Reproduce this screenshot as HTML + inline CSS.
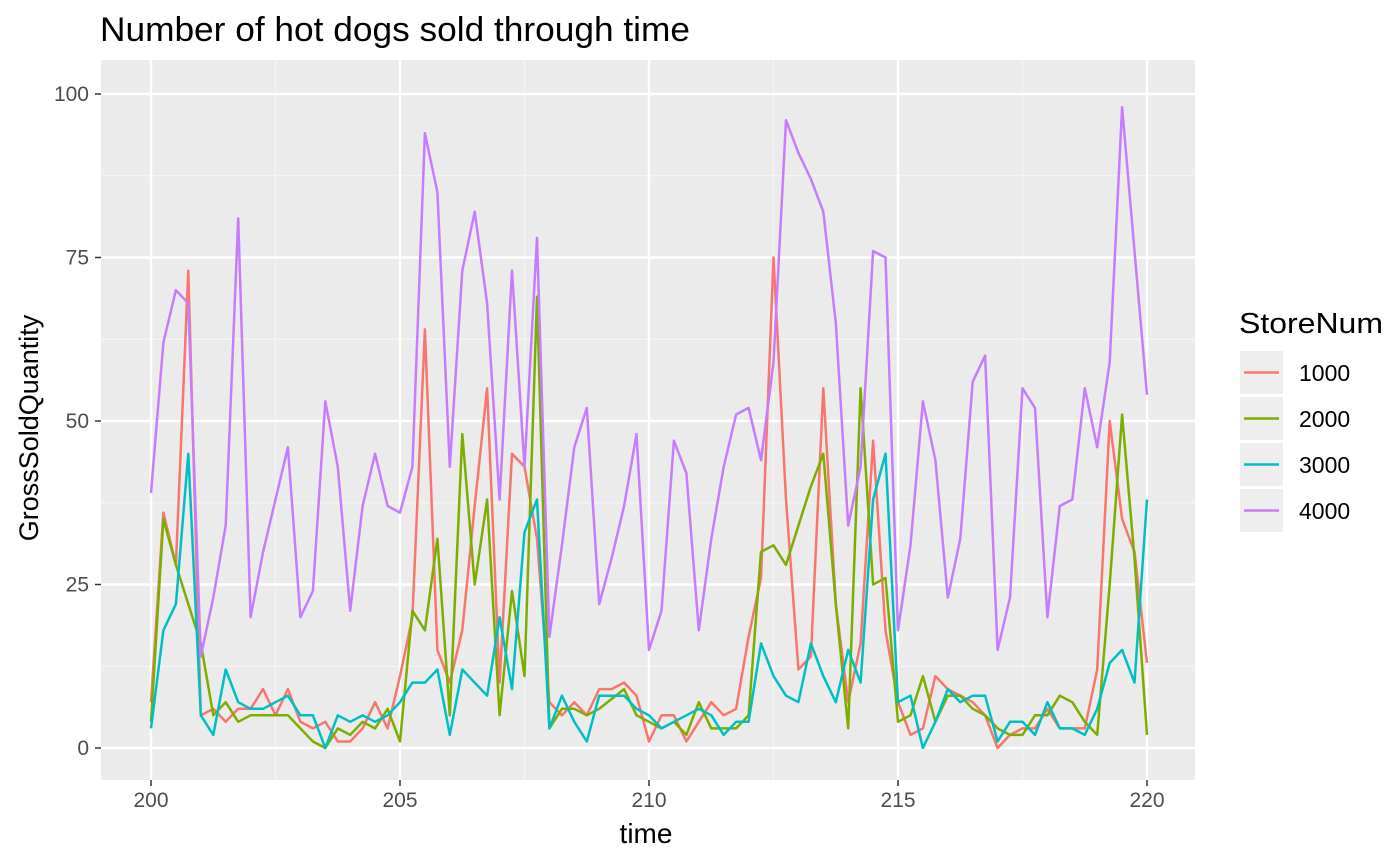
<!DOCTYPE html>
<html><head><meta charset="utf-8"><style>
body{margin:0;background:#fff;font-family:"Liberation Sans",Arial,sans-serif}
svg{display:block}
</style></head><body>
<svg id="chart" width="1400" height="865" xmlns="http://www.w3.org/2000/svg" font-family="Liberation Sans, Arial, sans-serif">
<text x="100" y="41" font-size="34" textLength="590" lengthAdjust="spacingAndGlyphs" fill="#000">Number of hot dogs sold through time</text>
<rect x="101" y="60" width="1094" height="720" fill="#ebebeb"/>
<g id="grid"></g>
<g id="series"></g>
<g id="axes"></g>
<text x="646" y="843" font-size="28" text-anchor="middle" fill="#000">time</text>
<text transform="translate(38,428) rotate(-90)" font-size="27" text-anchor="middle" fill="#000">GrossSoldQuantity</text>
<g>
<text x="1239" y="333" font-size="29" textLength="144" lengthAdjust="spacingAndGlyphs" fill="#000">StoreNum</text>
<g id="legend"></g>
</g>
</svg>
<script>
const storeNames = ["1000","2000","3000","4000"];
const colors = ["#F8766D","#7CAE00","#00BFC4","#C77CFF"];
const timeStart = 200, timeStep = 0.25;
const xTicks = [200,205,210,215,220];
const yTicks = [0,25,50,75,100];
const store1000 = [7,36,28,73,5,6,4,6,6,9,5,9,4,3,4,1,1,3,7,3,11,20,64,15,10,18,37,55,10,45,43,32,7,5,7,5,9,9,10,8,1,5,5,1,4,7,5,6,17,26,75,38,12,14,55,22,7,16,47,18,7,2,3,11,9,8,7,5,0,2,3,3,6,3,3,3,12,50,35,30,13];
const store2000 = [4,35,28,22,16,5,7,4,5,5,5,5,3,1,0,3,2,4,3,6,1,21,18,32,5,48,25,38,5,24,11,69,3,6,6,5,6,7.5,9,5,4,3,4,2,7,3,3,3,5,30,31,28,34,40,45,22,3,55,25,26,4,5,11,4,8,8,6,5,3,2,2,5,5,8,7,4,2,25,51,29,2];
const store3000 = [3,18,22,45,5,2,12,7,6,6,7,8,5,5,0,5,4,5,4,5,7,10,10,12,2,12,10,8,20,9,33,38,3,8,4,1,8,8,8,6,5,3,4,5,6,5,2,4,4,16,11,8,7,16,11,7,15,10,38,45,7,8,0,4,9,7,8,8,1,4,4,2,7,3,3,2,6,13,15,10,38];
const store4000 = [39,62,70,68,14,23,34,81,20,30,38,46,20,24,53,43,21,37,45,37,36,43,94,85,43,73,82,68,38,73,43,78,17,31,46,52,22,29,37,48,15,21,47,42,18,32,43,51,52,44,59,96,91,87,82,65,34,43,76,75,18,31,53,44,23,32,56,60,15,23,55,52,20,37,38,55,46,59,98,76,54];
const seriesData = [store1000,store2000,store3000,store4000];

const NS="http://www.w3.org/2000/svg";
const X0=101,X1=1195,Y0=60,Y1=780;
const xs=t=>151+(t-200)*(1147-151)/20;
const ys=v=>748-v*(748-94)/100;
function mk(tag,attrs,parent){const e=document.createElementNS(NS,tag);for(const k in attrs)e.setAttribute(k,attrs[k]);parent.appendChild(e);return e;}
const grid=document.getElementById('grid'),axes=document.getElementById('axes'),ser=document.getElementById('series'),leg=document.getElementById('legend');
for(let i=0;i<xTicks.length-1;i++){const m=(xTicks[i]+xTicks[i+1])/2;
 const l=mk('line',{x1:xs(m),x2:xs(m),y1:Y0,y2:Y1,stroke:'#f5f5f5','stroke-width':1.2},grid);
 
 }
for(let i=0;i<yTicks.length-1;i++){const m=(yTicks[i]+yTicks[i+1])/2;
 const l=mk('line',{x1:X0,x2:X1,y1:ys(m),y2:ys(m),stroke:'#f5f5f5','stroke-width':1.2},grid);
 
 }
xTicks.forEach(t=>{
 const l=mk('line',{x1:xs(t),x2:xs(t),y1:Y0,y2:Y1,stroke:'#fff','stroke-width':2.4},grid);
 
 
 const k=mk('line',{x1:xs(t),x2:xs(t),y1:Y1,y2:Y1+6,stroke:'#333','stroke-width':1.5},axes);
 
 
 const tx=mk('text',{x:xs(t),y:Y1+27,'font-size':21,'text-anchor':'middle',fill:'#4d4d4d'},axes);
 tx.textContent=t;
 
 
});
yTicks.forEach(v=>{
 const l=mk('line',{x1:X0,x2:X1,y1:ys(v),y2:ys(v),stroke:'#fff','stroke-width':2.4},grid);
 
 
 const k=mk('line',{x1:X0-6,x2:X0,y1:ys(v),y2:ys(v),stroke:'#333','stroke-width':1.5},axes);
 
 
 const tx=mk('text',{x:X0-12,y:ys(v)+7,'font-size':21,'text-anchor':'end',fill:'#4d4d4d'},axes);
 tx.textContent=v;
 
 
});
seriesData.forEach((arr,si)=>{
 const pts=arr.map((v,i)=>xs(timeStart+i*timeStep).toFixed(1)+','+ys(v).toFixed(1)).join(' ');
 const p=mk('polyline',{points:pts,fill:'none',stroke:colors[si],'stroke-width':2.5,'stroke-linejoin':'round'},ser);
 
 
 const y=351+si*46;
 const g=mk('g',{},leg);
 
 
 mk('rect',{x:1240,y:y,width:43,height:43,fill:'#eeeeee'},g);
 mk('line',{x1:1244,x2:1279,y1:y+21.5,y2:y+21.5,stroke:colors[si],'stroke-width':2.5},g);
 const t=mk('text',{x:1299,y:y+30,'font-size':23,fill:'#000'},g);
 t.textContent=storeNames[si];
});
</script>
</body></html>
